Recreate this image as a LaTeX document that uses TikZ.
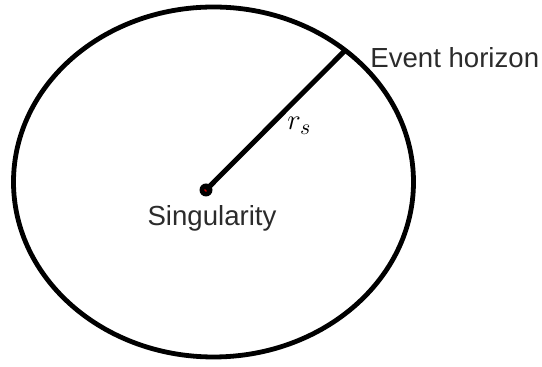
\documentclass[tikz,border=0pt]{standalone}
\usepackage{amsmath}
\usepackage{fontspec}
\setmainfont{Liberation Sans}
\usepackage{tikz}
\usetikzlibrary{shapes.geometric}
\definecolor{label}{HTML}{2B2B2B}
\tikzset{
  rim/.style={draw, ellipse, line width=2.4pt, inner sep=0pt, outer sep=0pt,
    minimum width=200pt, minimum height=175pt},
  dot/.style={circle, fill=black, inner sep=0pt, minimum size=6.5pt},
  lbl/.style={font=\fontsize{13.8}{16}\selectfont, text=label, inner sep=0pt}
}

\begin{document}
\begin{tikzpicture}[x=0.5pt, y=-0.5pt]
\useasboundingbox (0,0) rectangle (542,367);
\node[rim] (horizon) at (213.5,182) {};
\node[dot] (sing) at (206,190) {};
\fill[red!85!black] (sing.center) circle (0.9pt);
\draw[line width=2.5pt] (sing.center) -- (horizon.45);
\node[lbl, anchor=base west] (eh) at (370,68) {Event horizon};
\node[lbl, anchor=base] (singlbl) at (212,226) {Singularity};
\node[font=\fontsize{15}{17}\selectfont, anchor=base west, inner sep=0pt] (rs) at (287,130) {$r_s$};
\end{tikzpicture}
\end{document}
